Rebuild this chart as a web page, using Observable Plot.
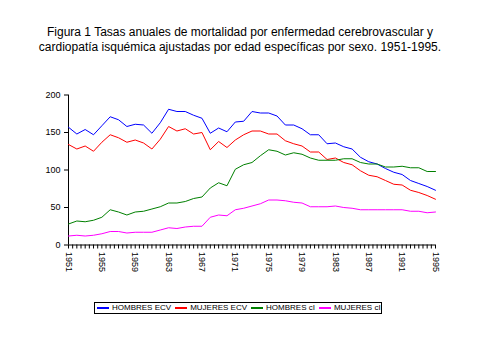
<!DOCTYPE html>
<html>
<head>
<meta charset="utf-8">
<script src="https://cdn.jsdelivr.net/npm/d3@7"></script>
<script src="https://cdn.jsdelivr.net/npm/@observablehq/plot@0.6"></script>
<style>
  html, body { margin: 0; padding: 0; background: #fff; }
  #wrap { position: relative; width: 480px; height: 360px; font-family: "Liberation Sans", Arial, sans-serif; }
  #title { position: absolute; left: 0; top: 25px; width: 480px; text-align: center; font-size: 12px; line-height: 15px; color: #000; white-space: nowrap; }
  #legend { position: absolute; left: 94px; top: 302px; width: 288px; height: 12px; border: 1px solid #000; font-size: 8px; line-height: 10px; display: flex; align-items: center; padding-left: 2px; box-sizing: border-box; white-space: nowrap; color: #000; }
  .item { display: flex; align-items: center; margin-right: 4px; flex-shrink: 0; height: 10px; }
  .sw { width: 12px; height: 2px; margin-right: 3px; flex-shrink: 0; }
  #chart { position: absolute; left: 0; top: 0; }
</style>
</head>
<body>
<div id="wrap">
  <div id="chart"></div>
  <div id="title">Figura 1 Tasas anuales de mortalidad por enfermedad cerebrovascular y<br>cardiopatía isquémica ajustadas por edad específicas por sexo. 1951-1995.</div>
  <div id="legend"></div>
</div>
<script>
const years = [1951,1952,1953,1954,1955,1956,1957,1958,1959,1960,1961,1962,1963,1964,1965,1966,1967,1968,1969,1970,1971,1972,1973,1974,1975,1976,1977,1978,1979,1980,1981,1982,1983,1984,1985,1986,1987,1988,1989,1990,1991,1992,1993,1994,1995];
const hombresECV = [157,148,154,147,159,171,167,158,161,160,149,163,181,178,178,173,169,149,156,151,164,165,178,176,176,172,160,160,155,147,147,135,136,131,128,117,111,108,102,97,94,86,82,78,73];
const mujeresECV = [134,128,132,125,137,147,143,137,140,136,128,141,158,152,155,148,150,127,138,130,140,147,152,152,148,148,139,135,132,124,124,114,116,110,107,99,93,91,86,81,80,73,70,66,61];
const hombresCI = [28,32,31,33,37,47,44,40,44,45,48,51,56,56,58,62,64,76,83,79,101,107,110,119,127,125,120,123,121,116,113,113,113,115,115,110,108,108,104,104,105,103,103,98,98];
const mujeresCI = [12,13,12,13,15,18,18,16,17,17,17,20,23,22,24,25,25,37,40,39,47,49,52,55,60,60,59,57,56,51,51,51,52,50,49,47,47,47,47,47,47,45,45,43,44];
const seriesNames = ["HOMBRES ECV", "MUJERES ECV", "HOMBRES cI", "MUJERES cI"];
const seriesColors = ["#0000ff", "#ff0000", "#008000", "#ff00ff"];
const yTicks = [0, 50, 100, 150, 200];
const xLabelYears = [1951,1955,1959,1963,1967,1971,1975,1979,1983,1987,1991,1995];
const xMinorTicks = years.flatMap((y, i) => i < years.length - 1 ? [y, y + 0.5] : [y]);

const allSeries = [hombresECV, mujeresECV, hombresCI, mujeresCI];
const rows = [];
allSeries.forEach((vals, s) => vals.forEach((v, i) => rows.push({serie: seriesNames[s], year: years[i], value: v})));

const chart = Plot.plot({
  width: 480,
  height: 360,
  marginTop: 94.5,
  marginBottom: 115.5,
  marginLeft: 68,
  marginRight: 45,
  style: { fontFamily: "Liberation Sans, Arial, sans-serif", background: "transparent", color: "#000" },
  x: { domain: [1951, 1995] },
  y: { domain: [0, 200] },
  color: { domain: seriesNames, range: seriesColors },
  marks: [
    Plot.axisY({ ticks: yTicks, tickSize: 4, tickPadding: 4, fontSize: 9, label: null, tickFormat: d => String(d) }),
    Plot.axisX({ ticks: xMinorTicks, tickSize: 4, tickFormat: () => "", label: null }),
    Plot.axisX({ ticks: xLabelYears, tickSize: 0, tickPadding: 7, tickRotate: 90, fontSize: 9, label: null, tickFormat: d => String(d) }),
    Plot.ruleX([1951], { stroke: "#000" }),
    Plot.ruleY([0], { stroke: "#000" }),
    Plot.line(rows, { x: "year", y: "value", z: "serie", stroke: "serie", strokeWidth: 1 })
  ]
});
document.getElementById("chart").appendChild(chart);

const legend = document.getElementById("legend");
seriesNames.forEach((n, i) => {
  const it = document.createElement("div");
  it.className = "item";
  const sw = document.createElement("div");
  sw.className = "sw";
  sw.style.backgroundColor = seriesColors[i];
  it.appendChild(sw);
  const t = document.createElement("span");
  t.textContent = n;
  it.appendChild(t);
  legend.appendChild(it);
});
</script>
</body>
</html>
